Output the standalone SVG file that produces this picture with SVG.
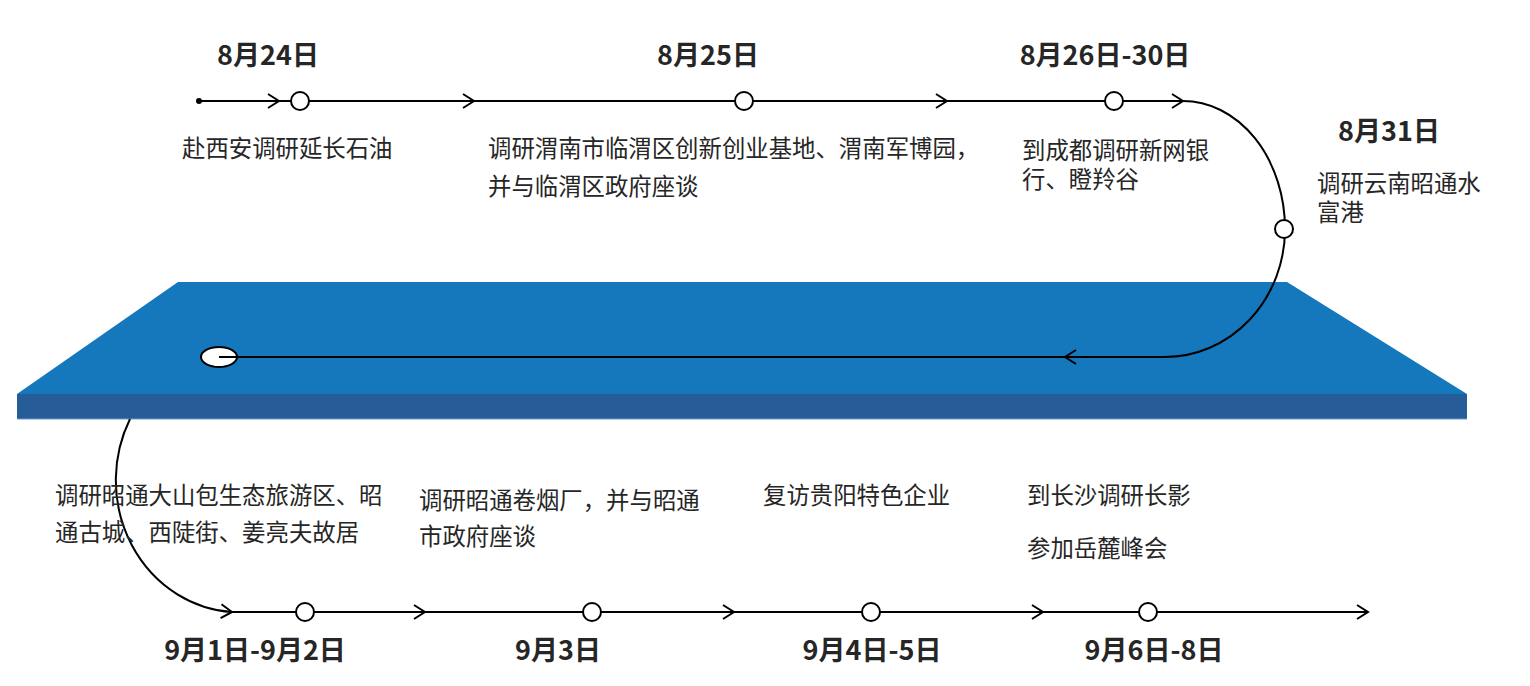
<svg xmlns="http://www.w3.org/2000/svg" width="1530" height="686" viewBox="0 0 1530 686">
<defs>
<marker id="arr" markerUnits="userSpaceOnUse" markerWidth="14" markerHeight="16" refX="11" refY="7" orient="auto" overflow="visible">
<path d="M0,0 L11,7 L0,14" fill="none" stroke="#000" stroke-width="2"/>
</marker>
<style>
.ln{fill:none;stroke:#000;stroke-width:2}
.nd{fill:#fff;stroke:#000;stroke-width:2}
.dt{font-family:"Noto Sans CJK SC","Noto Sans",sans-serif;font-weight:bold;font-size:27px;fill:#262626;text-anchor:middle}
.ds{font-family:"Noto Sans CJK SC","Noto Sans",sans-serif;font-size:23.4px;fill:#262626}
</style>
</defs>
<rect width="1530" height="686" fill="#fff"/>
<g id="platform">
<polygon points="178,282 1287,282 1467,394 17,394" fill="#1577bc"/>
<rect x="17" y="394" width="1450" height="25" fill="#265d98"/>
<line x1="17" y1="419" x2="1467" y2="419" stroke="#6f9bc9" stroke-width="1"/>
</g>
<g id="connectors">
<circle cx="199" cy="101" r="3" fill="#000"/>
<path class="ln" d="M199,101 H279" marker-end="url(#arr)"/>
<path class="ln" d="M279,101 H474" marker-end="url(#arr)"/>
<path class="ln" d="M474,101 H947" marker-end="url(#arr)"/>
<path class="ln" d="M947,101 H1183" marker-end="url(#arr)"/>
<path class="ln" d="M1183,101 A102,128 0 0 1 1285,229 A120,128 0 0 1 1165,357 H1065" marker-end="url(#arr)"/>
<path class="ln" d="M1065,357 H219"/>
<path class="ln" d="M130,419 A124,132 0 0 0 232,612" marker-end="url(#arr)"/>
<path class="ln" d="M232,612 H425" marker-end="url(#arr)"/>
<path class="ln" d="M425,612 H734" marker-end="url(#arr)"/>
<path class="ln" d="M734,612 H1043" marker-end="url(#arr)"/>
<path class="ln" d="M1043,612 H1368" marker-end="url(#arr)"/>
</g>
<g id="n0824">
<circle class="nd" cx="300" cy="101" r="9"/>
<text class="dt" x="268" y="65">8月24日</text>
<text class="ds" x="182" y="157">赴西安调研延长石油</text>
</g>
<g id="n0825">
<circle class="nd" cx="744" cy="101" r="9"/>
<text class="dt" x="708" y="65">8月25日</text>
<text class="ds" x="488" y="157">调研渭南市临渭区创新创业基地、渭南军博园，</text>
<text class="ds" x="488" y="195">并与临渭区政府座谈</text>
</g>
<g id="n0826">
<circle class="nd" cx="1114" cy="101" r="9"/>
<text class="dt" x="1105" y="65">8月26日-30日</text>
<text class="ds" x="1022" y="159">到成都调研新网银</text>
<text class="ds" x="1022" y="188">行、瞪羚谷</text>
</g>
<g id="n0831">
<circle class="nd" cx="1284" cy="229" r="9"/>
<text class="dt" x="1389" y="141">8月31日</text>
<text class="ds" x="1317" y="192">调研云南昭通水</text>
<text class="ds" x="1317" y="221">富港</text>
</g>
<g id="nmid">
<ellipse class="nd" cx="219" cy="357" rx="18" ry="10"/>
<line x1="219" y1="357" x2="238" y2="357" stroke="#000" stroke-width="2"/>
</g>
<g id="n0901">
<circle class="nd" cx="305" cy="612" r="9"/>
<text class="dt" x="255" y="660">9月1日-9月2日</text>
<text class="ds" x="55" y="504">调研昭通大山包生态旅游区、昭</text>
<text class="ds" x="55" y="541">通古城、西陡街、姜亮夫故居</text>
</g>
<g id="n0903">
<circle class="nd" cx="592" cy="612" r="9"/>
<text class="dt" x="558" y="660">9月3日</text>
<text class="ds" x="419" y="509">调研昭通卷烟厂，并与昭通</text>
<text class="ds" x="419" y="545">市政府座谈</text>
</g>
<g id="n0904">
<circle class="nd" cx="871" cy="612" r="9"/>
<text class="dt" x="872" y="660">9月4日-5日</text>
<text class="ds" x="763" y="504">复访贵阳特色企业</text>
</g>
<g id="n0906">
<circle class="nd" cx="1148" cy="612" r="9"/>
<text class="dt" x="1154" y="660">9月6日-8日</text>
<text class="ds" x="1027" y="504">到长沙调研长影</text>
<text class="ds" x="1027" y="557">参加岳麓峰会</text>
</g>
</svg>
